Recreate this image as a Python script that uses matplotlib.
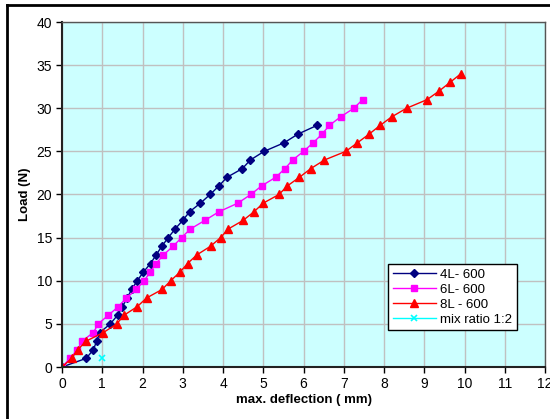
import matplotlib
matplotlib.use("Agg")
import matplotlib.pyplot as plt
from matplotlib.lines import Line2D

plt.rcParams['font.family'] = ['Liberation Sans', 'DejaVu Sans']

# Data
load_4l = list(range(0, 29))
defl_4l = [0, 0.6, 0.78, 0.86, 0.94, 1.2, 1.38, 1.5, 1.62, 1.73, 1.87, 2.02, 2.2, 2.34,
           2.48, 2.64, 2.81, 3.0, 3.17, 3.44, 3.68, 3.9, 4.1, 4.48, 4.68, 5.02, 5.52,
           5.86, 6.33]
load_6l = list(range(0, 32))
defl_6l = [0, 0.2, 0.38, 0.5, 0.78, 0.9, 1.15, 1.4, 1.6, 1.85, 2.04, 2.19, 2.34, 2.52,
           2.76, 2.97, 3.19, 3.55, 3.9, 4.37, 4.69, 4.96, 5.31, 5.54, 5.73, 6.0, 6.24,
           6.46, 6.64, 6.92, 7.25, 7.47]
load_8l = list(range(0, 35))
defl_8l = [0, 0.24, 0.39, 0.6, 1.03, 1.36, 1.54, 1.87, 2.1, 2.49, 2.7, 2.93, 3.12, 3.35,
           3.69, 3.94, 4.13, 4.5, 4.77, 5.0, 5.39, 5.6, 5.9, 6.18, 6.52, 7.05, 7.34,
           7.63, 7.9, 8.19, 8.56, 9.07, 9.37, 9.64, 9.91]
load_mix = [1]
defl_mix = [1]

labels = ['4L- 600', '6L- 600', '8L - 600', 'mix ratio 1:2']
x_ticks = list(range(0, 13))
y_ticks = list(range(0, 41, 5))

fig = plt.figure(figsize=(5.5, 4.19), dpi=100)
ax = fig.add_axes([62/550, 1-367/419, (545-62)/550, (367-22)/419])
ax.set_facecolor('#CCFFFF')

ax.plot(defl_4l, load_4l, color='#000080', marker='D', ms=4.5, lw=1, label=labels[0])
ax.plot(defl_6l, load_6l, color='#FF00FF', marker='s', ms=5, lw=1, label=labels[1])
ax.plot(defl_8l, load_8l, color='#FF0000', marker='^', ms=6, lw=1, label=labels[2])
ax.plot(defl_mix, load_mix, color='#00FFFF', marker='x', ms=5, lw=1, mew=1.2, label=labels[3])

ax.set_xlim(0, 12)
ax.set_ylim(0, 40)
ax.set_xticks(x_ticks)
ax.set_yticks(y_ticks)
ax.grid(True, color='#C0C0C0', lw=1)
ax.set_axisbelow(True)
ax.tick_params(direction='out', length=4, width=1, labelsize=10, colors='black', pad=3)

for s in ['top', 'right']:
    ax.spines[s].set_color('#555555')
    ax.spines[s].set_linewidth(1)
for s in ['left', 'bottom']:
    ax.spines[s].set_color('#222222')
    ax.spines[s].set_linewidth(1.5)

ax.set_xlabel('max. deflection ( mm)', fontsize=9.5, fontweight='bold', labelpad=2)
ax.set_ylabel('Load (N)', fontsize=9.5, fontweight='bold', labelpad=4)

leg = ax.legend(loc='upper left', bbox_to_anchor=(0.675, 0.298), fontsize=9.5,
                frameon=True, fancybox=False, edgecolor='black', framealpha=1,
                handlelength=3.3, borderpad=0.35, labelspacing=0.2, handletextpad=0.3,
                borderaxespad=0)
leg.get_frame().set_linewidth(1)

# figure frame (partially cropped)
fig.add_artist(Line2D([7/550, 1], [1-5/419, 1-5/419], transform=fig.transFigure, color='black', lw=2))
fig.add_artist(Line2D([7/550, 7/550], [0, 1-5/419], transform=fig.transFigure, color='black', lw=2))

fig.savefig('out.png', dpi=100)
